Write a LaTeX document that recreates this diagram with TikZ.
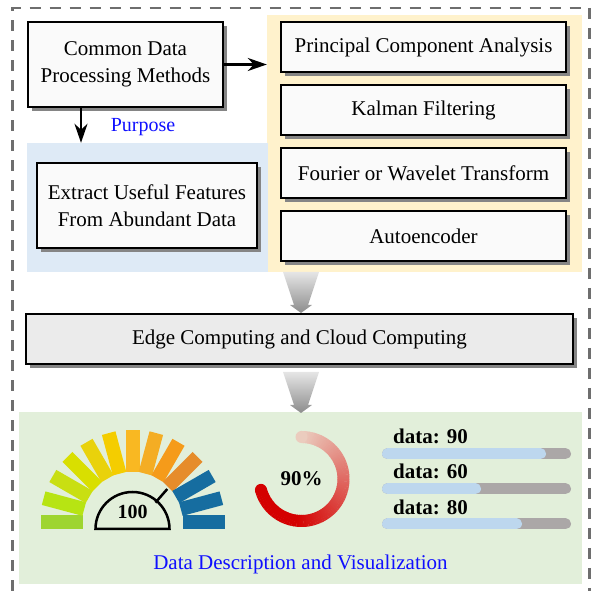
\documentclass[tikz,border=0pt]{standalone}
\usepackage{fontspec}
\setmainfont{Liberation Serif}
\usetikzlibrary{shadows,arrows.meta}
\definecolor{ybg}{HTML}{FFF2CC}
\definecolor{bbg}{HTML}{DEEAF6}
\definecolor{gbg}{HTML}{E2EFDA}
\definecolor{boxfill}{HTML}{FAFAFA}
\definecolor{edgefill}{HTML}{EBEBEB}
\definecolor{shadowgray}{HTML}{858585}
\definecolor{dashcol}{HTML}{6E6E6E}
\definecolor{ringred}{HTML}{D40000}
\definecolor{ringpink}{HTML}{EBCCBE}
\definecolor{bargray}{HTML}{ABA7A7}
\definecolor{barblue}{HTML}{BDD7EE}
\definecolor{textblue}{HTML}{1010FF}
\definecolor{g1}{HTML}{9ED530}
\definecolor{g2}{HTML}{B7E413}
\definecolor{g3}{HTML}{C9DF12}
\definecolor{g4}{HTML}{D9DF00}
\definecolor{g5}{HTML}{E9D20B}
\definecolor{g6}{HTML}{F4CD00}
\definecolor{g7}{HTML}{F9B822}
\definecolor{g8}{HTML}{F4AD24}
\definecolor{g9}{HTML}{F59B1A}
\definecolor{g10}{HTML}{E68C2A}
\definecolor{gb}{HTML}{166DA0}
\begin{document}
\begin{tikzpicture}[x=1pt,y=1pt,
  box/.style={draw=black, line width=1.1pt, fill=boxfill, inner sep=0pt, align=center,
    font=\fontsize{21}{27}\selectfont,
    drop shadow={shadow xshift=4pt, shadow yshift=-4pt, fill=shadowgray, opacity=1}},
  panel/.style={draw=none, inner sep=0pt},
  arr/.style={line width=2.6pt, -{Stealth[length=19pt,width=13pt,inset=6pt]}},
  bigarrow/.style={top color=black!10, bottom color=black!45, draw=none},
  bar/.style={line width=11pt, line cap=round},
  datalabel/.style={anchor=west, inner sep=0pt, font=\bfseries\fontsize{21}{24}\selectfont}]
\useasboundingbox (0,0) rectangle (595,591);

% panels
\node[panel, fill=ybg, minimum width=315pt, minimum height=257pt] (ypanel) at (424.5,447.5) {};
\node[panel, fill=bbg, minimum width=241pt, minimum height=129pt] (bpanel) at (147.5,383.5) {};
\node[panel, fill=gbg, minimum width=563pt, minimum height=172pt] (gpanel) at (300.5,93) {};

% dashed frame
\draw[dashcol, line width=2.5pt, dash pattern=on 11pt off 9pt] (12.5,-20) -- (12.5,583) -- (589.5,583) -- (589.5,-20);

% boxes
\node[box, minimum width=195pt, minimum height=85pt] (common) at (125.5,526.5) {Common Data\\Processing Methods};
\node[box, minimum width=220pt, minimum height=85pt] (extract) at (147,385.5) {Extract Useful Features\\From Abundant Data};
\node[box, minimum width=285pt, minimum height=50pt] (pca) at (423.5,544) {Principal Component Analysis};
\node[box, minimum width=285pt, minimum height=50pt] (kalman) at (423.5,481) {Kalman Filtering};
\node[box, minimum width=285pt, minimum height=50pt] (fourier) at (423.5,418) {Fourier or Wavelet Transform};
\node[box, minimum width=285pt, minimum height=50pt] (auto) at (423.5,355) {Autoencoder};
\node[box, fill=edgefill, minimum width=547pt, minimum height=50pt] (edge) at (299.5,252) {Edge Computing and Cloud Computing};

% arrows
\draw[arr] (common.east) -- (common.east -| ypanel.west);
\coordinate (dx) at (81,0);
\draw[arr] (common.south -| dx) -- (bpanel.north -| dx);
\node[text=textblue, font=\fontsize{20}{24}\selectfont] (purpose) at (143,464) {Purpose};

% big gray arrows
\shade[bigarrow] (283,319) -- (319,319) -- (308,286) -- (312,286) -- (301,278) -- (290,286) -- (294,286) -- cycle;
\shade[bigarrow] (283,219) -- (319,219) -- (308,186) -- (312,186) -- (301,178) -- (290,186) -- (294,186) -- cycle;

% gauge
\foreach \i/\c in {0/g1,1/g2,2/g3,3/g4,4/g5,5/g6,6/g7,7/g8,8/g9,9/g10,10/gb,11/gb,12/gb}{
  \begin{scope}[shift={(132.5,69)}, rotate={180-15*\i}]
    \fill[\c] (50,-7) rectangle (92,7);
  \end{scope}
}
\draw[line width=2.5pt] (95.5,62) arc[start angle=180, end angle=0, radius=37] -- cycle;
\draw[line width=2.5pt] (132.5,62) ++(49:35) -- ++(49:18);
\node[font=\bfseries\fontsize{20}{24}\selectfont] (hundred) at (132.5,79) {100};

% ring
\foreach \a in {90,87,...,-162}{
  \pgfmathsetmacro\t{min(100,100*((90-\a)/185))}
  \draw[line width=12pt, ringred!\t!ringpink] ([shift={(301.5,112)}]\a:42) arc[start angle=\a, end angle=\a-3.6, radius=42];
}
\fill[ringpink] ([shift={(301.5,112)}]90:42) circle (6);
\fill[ringred] ([shift={(301.5,112)}]-165:42) circle (6);
\node[font=\bfseries\fontsize{21}{24}\selectfont] (pct) at (301.5,112) {90\%};

% progress bars
\draw[bar, bargray] (387.5,137.3) -- (565.5,137.3);
\draw[bar, barblue] (387.5,137.3) -- (540.5,137.3);
\draw[bar, bargray] (387.5,102.3) -- (565.5,102.3);
\draw[bar, barblue] (387.5,102.3) -- (475.5,102.3);
\draw[bar, bargray] (387.5,67) -- (565.5,67);
\draw[bar, barblue] (387.5,67) -- (516.5,67);
\node[datalabel] (d1) at (393,155) {data: 90};
\node[datalabel] (d2) at (393,120) {data: 60};
\node[datalabel] (d3) at (393,84) {data: 80};

\node[text=textblue, font=\fontsize{21}{24}\selectfont] (title) at (300.5,27) {Data Description and Visualization};
\end{tikzpicture}
\end{document}
